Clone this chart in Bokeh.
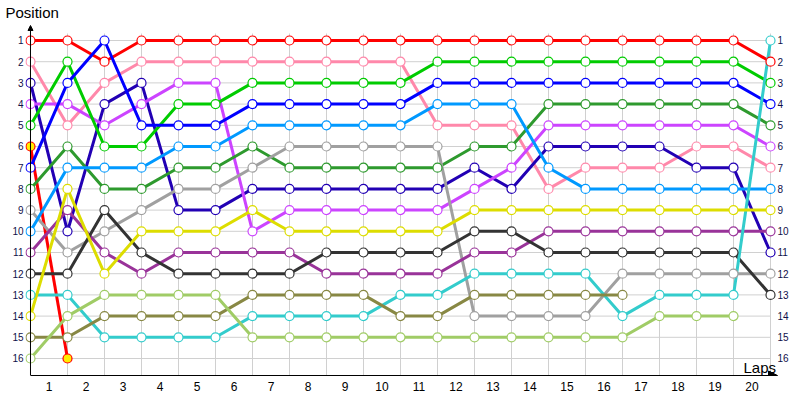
from bokeh.plotting import figure
from bokeh.models import Range1d, FixedTicker, LinearAxis, Label, Arrow, NormalHead, Title
from bokeh.embed import file_html
from bokeh.resources import INLINE

# ---------------- data ----------------
laps = list(range(0, 21))
positions = list(range(1, 17))
lap_labels = [str(i) for i in range(1, 21)]

N = None
red = [1, 1, 2, 1, 1, 1, 1, 1, 1, 1, 1, 1, 1, 1, 1, 1, 1, 1, 1, 1, 2]
pink = [2, 5, 3, 2, 2, 2, 2, 2, 2, 2, 2, 5, 5, 5, 8, 7, 7, 7, 6, 6, 7]
navy = [3, 10, 4, 3, 9, 9, 8, 8, 8, 8, 8, 8, 7, 8, 6, 6, 6, 6, 7, 7, 11]
violet = [4, 4, 5, 4, 3, 3, 10, 9, 9, 9, 9, 9, 8, 7, 5, 5, 5, 5, 5, 5, 6]
green = [5, 2, 6, 6, 4, 4, 3, 3, 3, 3, 3, 2, 2, 2, 2, 2, 2, 2, 2, 2, 3]
red_out = [6, 16, N, N, N, N, N, N, N, N, N, N, N, N, N, N, N, N, N, N, N]
blue = [7, 3, 1, 5, 5, 5, 4, 4, 4, 4, 4, 3, 3, 3, 3, 3, 3, 3, 3, 3, 4]
dkgreen = [8, 6, 8, 8, 7, 7, 6, 7, 7, 7, 7, 7, 6, 6, 4, 4, 4, 4, 4, 4, 5]
gray = [9, 11, 10, 9, 8, 8, 7, 6, 6, 6, 6, 6, 14, 14, 14, 14, 12, 12, 12, 12, 12]
ltblue = [10, 7, 7, 7, 6, 6, 5, 5, 5, 5, 5, 4, 4, 4, 7, 8, 8, 8, 8, 8, 8]
purple = [11, 9, 11, 12, 11, 11, 11, 11, 12, 12, 12, 12, 11, 11, 10, 10, 10, 10, 10, 10, 10]
dkgray = [12, 12, 9, 11, 12, 12, 12, 12, 11, 11, 11, 11, 10, 10, 11, 11, 11, 11, 11, 11, 13]
cyan = [13, 13, 15, 15, 15, 15, 14, 14, 14, 14, 13, 13, 12, 12, 12, 12, 14, 13, 13, 13, 1]
yellow = [14, 8, 12, 10, 10, 10, 9, 10, 10, 10, 10, 10, 9, 9, 9, 9, 9, 9, 9, 9, 9]
olive = [15, 15, 14, 14, 14, 14, 13, 13, 13, 13, 14, 14, 13, 13, 13, 13, 13, N, N, N, N]
ltgreen = [16, 14, 13, 13, 13, 13, 15, 15, 15, 15, 15, 15, 15, 15, 15, 15, 15, 14, 14, 14, N]

# (values, line colour, marker fill)
series = [
    (red, "#ff0000", "white"),
    (pink, "#ff88aa", "white"),
    (navy, "#2200b4", "white"),
    (violet, "#cc44ff", "white"),
    (green, "#00cc00", "white"),
    (red_out, "#ff0000", "#ffee00"),
    (blue, "#0000ff", "white"),
    (dkgreen, "#2e9a2e", "white"),
    (gray, "#a0a0a0", "white"),
    (ltblue, "#0099ff", "white"),
    (purple, "#993399", "white"),
    (dkgray, "#333333", "white"),
    (cyan, "#33cccc", "white"),
    (yellow, "#dddd00", "white"),
    (olive, "#888844", "white"),
    (ltgreen, "#a0cc66", "white"),
]

# ---------------- figure ----------------
X0, X1 = -0.135, 20.189
Y_TOP, Y_BOT = 0.0566, 16.802
GRID_TOP = 0.67
AXIS_TOP = 0.2925
FONT = "Liberation Sans"

p = figure(width=800, height=400, x_range=Range1d(X0, X1), y_range=Range1d(Y_BOT, Y_TOP),
           output_backend="svg", toolbar_location=None,
           x_axis_location=None, y_axis_location=None,
           min_border_left=25, min_border_right=23, min_border_top=20, min_border_bottom=25)
p.outline_line_color = None
p.background_fill_color = "white"
p.border_fill_color = "white"
for g in p.grid:
    g.visible = False

p.title = Title(text="Position", align="left", offset=-20, standoff=0,
                text_font=FONT, text_font_size="15px", text_font_style="normal",
                text_color="black")


def style_axis(ax, size):
    ax.major_tick_line_color = None
    ax.minor_tick_line_color = None
    ax.major_tick_out = 0
    ax.major_tick_in = 0
    ax.major_label_text_font = FONT
    ax.major_label_text_font_size = size
    ax.major_label_text_color = "#10104a"
    ax.axis_line_color = None


ly = LinearAxis(ticker=FixedTicker(ticks=positions))
style_axis(ly, "10px")
ly.major_label_standoff = 2
p.add_layout(ly, "left")

ry = LinearAxis(ticker=FixedTicker(ticks=positions))
style_axis(ry, "10px")
ry.major_label_standoff = 0
p.add_layout(ry, "right")

mid_ticks = [(a + b) / 2 for a, b in zip(laps[:-1], laps[1:])]
bx = LinearAxis(ticker=FixedTicker(ticks=mid_ticks),
                major_label_overrides={t: s for t, s in zip(mid_ticks, lap_labels)},
                bounds=(0, X1))
style_axis(bx, "12px")
bx.axis_line_color = "black"
bx.major_label_text_color = "black"
bx.major_label_standoff = 6
p.add_layout(bx, "below")

# grid
p.segment(x0=[laps[0]] * len(positions), x1=[laps[-1]] * len(positions), y0=positions, y1=positions,
          line_color="#d0d0d0", line_width=1)
p.segment(x0=laps[1:], x1=laps[1:], y0=[GRID_TOP] * (len(laps) - 1), y1=[Y_BOT] * (len(laps) - 1),
          line_color="#d0d0d0", line_width=1)

# axis arrows (left axis line drawn at lap 0)
p.add_layout(Arrow(x_start=laps[-1], y_start=Y_BOT, x_end=X1, y_end=Y_BOT, line_color="black",
                   line_width=1, end=NormalHead(size=9, fill_color="black", line_color="black")))
p.add_layout(Arrow(x_start=laps[0], y_start=Y_BOT, x_end=laps[0], y_end=AXIS_TOP, line_color="black",
                   line_width=1, end=NormalHead(size=5, fill_color="black", line_color="black")))

# lines
for vals, col, fill in series:
    xs = [l for l, v in zip(laps, vals) if v is not None]
    ys = [v for v in vals if v is not None]
    p.line(xs, ys, line_color=col, line_width=3)

# markers
for vals, col, fill in series:
    xs = [l for l, v in zip(laps, vals) if v is not None]
    ys = [v for v in vals if v is not None]
    p.scatter(xs, ys, marker="circle", size=9, fill_color=fill, line_color=col, line_width=1.2)

p.add_layout(Label(x=19.27, y=16.42, text="Laps", text_font=FONT, text_font_size="15px",
                   text_color="black", text_baseline="alphabetic", text_align="left"))

open("out.html", "w").write(file_html(p, INLINE))
